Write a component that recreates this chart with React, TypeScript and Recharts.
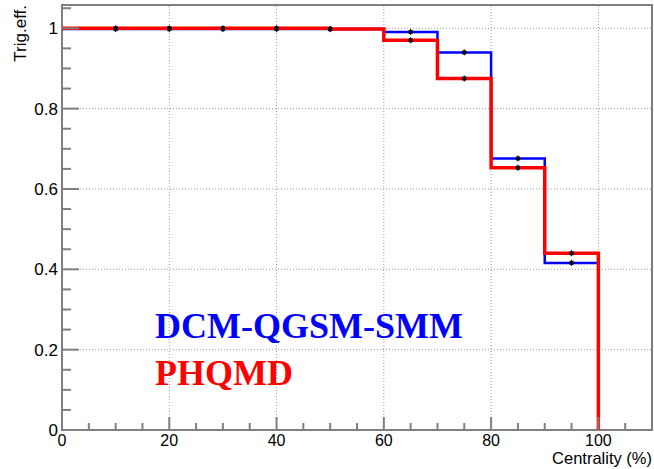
import React from 'react';
import {
  ComposedChart,
  Line,
  Scatter,
  XAxis,
  YAxis,
  ReferenceLine,
  ReferenceArea
} from 'recharts';

// histogram bins: lower edges, width 10
const binEdges = [0, 10, 20, 30, 40, 50, 60, 70, 80, 90, 100];
const dcmEff = [0.998, 0.998, 0.998, 0.998, 0.998, 0.998, 0.991, 0.94, 0.676, 0.416];
const phqmdEff = [1.0, 1.0, 1.0, 1.0, 1.0, 0.998, 0.97, 0.875, 0.653, 0.44];
const markerX = [10, 20, 30, 40, 50, 65, 75, 85, 95];

const xTicks = [0, 5, 10, 15, 20, 25, 30, 35, 40, 45, 50, 55, 60, 65, 70, 75, 80, 85, 90, 95, 100, 105];
const yTicks = [0, 0.05, 0.1, 0.15, 0.2, 0.25, 0.3, 0.35, 0.4, 0.45, 0.5, 0.55, 0.6, 0.65, 0.7, 0.75, 0.8, 0.85, 0.9, 0.95, 1.0, 1.05];
const xGrid = [20, 40, 60, 80, 100];
const yGrid = [0.2, 0.4, 0.6, 0.8, 1.0];

const Y_MAX = 1.058;
const AXIS_COLOR = '#7f7f7f';
const SANS = '"Liberation Sans", Arial, sans-serif';
const SERIF = '"Liberation Serif", "Times New Roman", serif';

// step line points: one per bin edge, then drop to zero at the last edge
const toSteps = (vals: number[]) =>
  binEdges.map((x, i) => ({ x, y: i < vals.length ? vals[i] : 0 }));

const toMarkers = (vals: number[]) =>
  markerX.map((x) => ({ x, y: vals[Math.min(Math.floor(x / 10), vals.length - 1)] }));

const dcmSteps = toSteps(dcmEff);
const phqmdSteps = toSteps(phqmdEff);

const XTick = (props: any) => {
  const { x, y, payload } = props;
  const v = payload.value;
  const major = v % 20 === 0;
  return (
    <g>
      <line x1={x} x2={x} y1={y} y2={y - (major ? 13 : 7)} stroke={AXIS_COLOR} strokeWidth={2} />
      {major && (
        <text x={x} y={y + 16} textAnchor="middle" fontSize={16} fontFamily={SANS} fill="#000">
          {v}
        </text>
      )}
    </g>
  );
};

const YTick = (props: any) => {
  const { x, y, payload } = props;
  const v = payload.value;
  const major = Math.round(v * 100) % 20 === 0;
  return (
    <g>
      <line x1={x} x2={x + (major ? 17 : 9)} y1={y} y2={y} stroke={AXIS_COLOR} strokeWidth={2} />
      {major && (
        <text x={x - 4} y={y + 6} textAnchor="end" fontSize={17} fontFamily={SANS} fill="#000">
          {String(Math.round(v * 10) / 10)}
        </text>
      )}
    </g>
  );
};

const Marker = (props: any) => {
  const { cx, cy } = props;
  return (
    <g>
      <line x1={cx} x2={cx} y1={cy - 3} y2={cy + 3} stroke="#000" strokeWidth={1} />
      <rect x={cx - 2} y={cy - 2} width={4} height={4} fill="#000" />
    </g>
  );
};

export default function App() {
  return (
    <div style={{ position: 'absolute', left: 0, top: 0, width: 654, height: 469, background: '#fff' }}>
      <ComposedChart width={654} height={469} margin={{ top: 5, right: 2, left: 0, bottom: 0 }}>
        <XAxis
          dataKey="x"
          type="number"
          domain={[0, 110]}
          ticks={xTicks}
          interval={0}
          tick={<XTick />}
          tickSize={0}
          tickMargin={0}
          tickLine={false}
          axisLine={false}
          height={39}
          allowDataOverflow
        />
        <YAxis
          type="number"
          domain={[0, Y_MAX]}
          ticks={yTicks}
          interval={0}
          tick={<YTick />}
          tickSize={0}
          tickMargin={0}
          tickLine={false}
          axisLine={false}
          width={62}
          allowDataOverflow
        />
        {/* dotted grid at the major ticks */}
        {xGrid.map((v) => (
          <ReferenceLine key={'gx' + v} x={v} stroke="#9a9a9a" strokeDasharray="1 2" strokeWidth={1} />
        ))}
        {yGrid.map((v) => (
          <ReferenceLine key={'gy' + v} y={v} stroke="#9a9a9a" strokeDasharray="1 2" strokeWidth={1} />
        ))}
        <ReferenceArea x1={0} x2={110} y1={0} y2={Y_MAX} fill="none" stroke={AXIS_COLOR} strokeWidth={2} />

        <Line
          data={dcmSteps}
          dataKey="y"
          type="stepAfter"
          stroke="#0000ff"
          strokeWidth={2.5}
          dot={false}
          isAnimationActive={false}
        />
        <Line
          data={phqmdSteps}
          dataKey="y"
          type="stepAfter"
          stroke="#ff0000"
          strokeWidth={3.5}
          dot={false}
          isAnimationActive={false}
        />
        <Scatter data={toMarkers(dcmEff)} dataKey="y" shape={<Marker />} isAnimationActive={false} />
        <Scatter data={toMarkers(phqmdEff)} dataKey="y" shape={<Marker />} isAnimationActive={false} />
      </ComposedChart>

      {/* axis titles and model labels */}
      <svg
        width={654}
        height={469}
        style={{ position: 'absolute', left: 0, top: 0, pointerEvents: 'none' }}
      >
        <text x={26} y={5} transform="rotate(-90, 26, 5)" textAnchor="end" fontSize={17} fontFamily={SANS} fill="#000">
          Trig.eff.
        </text>
        <text x={652} y={464} textAnchor="end" fontSize={16.5} fontFamily={SANS} fill="#000">
          Centrality (%)
        </text>
        <text x={155} y={338} fontSize={36} fontWeight="bold" fontFamily={SERIF} fill="#0000ff">
          DCM-QGSM-SMM
        </text>
        <text x={155} y={385} fontSize={36} fontWeight="bold" fontFamily={SERIF} fill="#ff0000">
          PHQMD
        </text>
      </svg>
    </div>
  );
}
